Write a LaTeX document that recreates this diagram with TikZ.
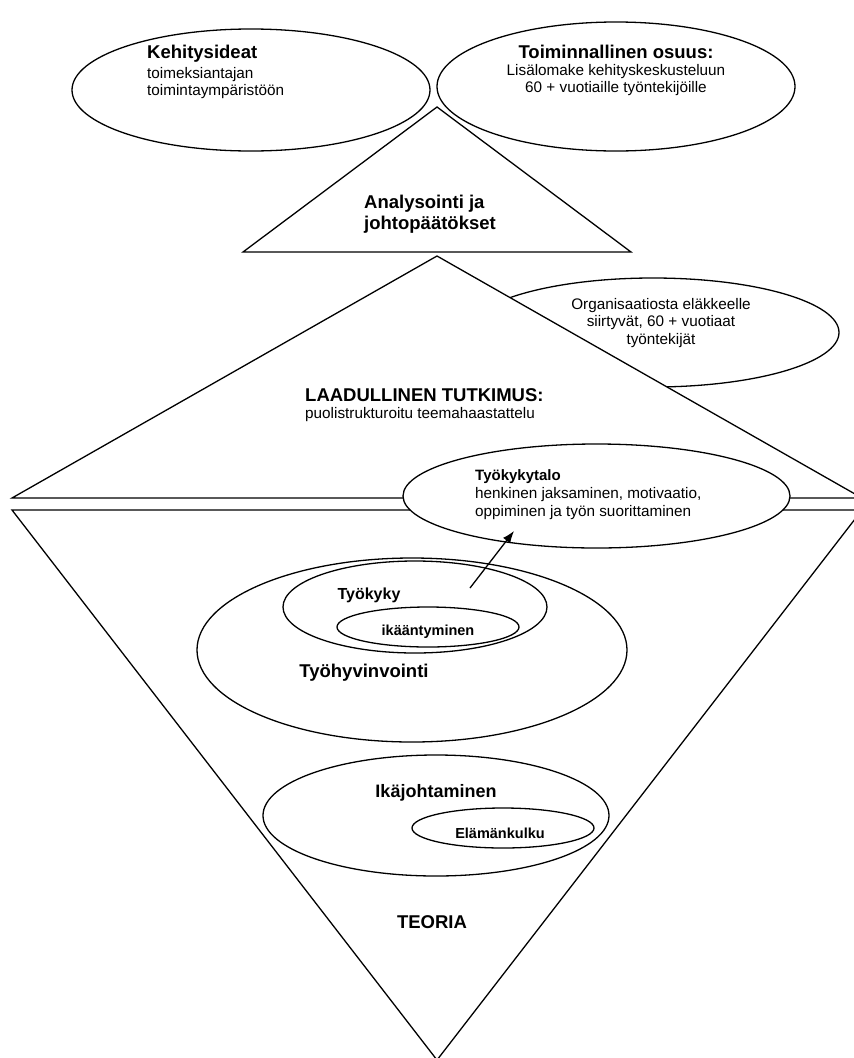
\documentclass[tikz,border=0pt]{standalone}
\usepackage{fontspec}
\setmainfont{Liberation Sans}
\usetikzlibrary{arrows.meta,shapes.geometric,positioning}

\begin{document}
\begin{tikzpicture}
        [x=1pt,y=-1pt,
        oval/.style={ellipse, draw, line width=1.3pt, fill=white, inner sep=0pt},
        tri/.style={draw, line width=1.3pt, fill=white, line join=miter},
        head/.style={font=\fontsize{18.5}{21}\selectfont\bfseries, inner sep=0pt},
        subhead/.style={font=\fontsize{15}{17}\selectfont\bfseries, inner sep=0pt},
        body/.style={font=\fontsize{15.3}{17.5}\selectfont, inner sep=0pt},
        line/.style={draw, line width=1.3pt, -{Latex[length=12pt,width=9pt]}}]
        \useasboundingbox (0,0) rectangle (854,1058);
        % top row
        \node [oval, minimum width=358pt, minimum height=122pt] (ideas) at (251,90) {};
        \node [oval, minimum width=358pt, minimum height=129pt] (action) at (616,86.5) {};
        \path [tri] (437,107) coordinate (anatop) -- (631,252) -- (243,252) -- cycle;
        % research
        \node [oval, minimum width=372pt, minimum height=109pt] (retirees) at (653,332.5) {};
        \path [tri] (437,256) coordinate (restop) -- (862,498) -- (12,498) -- cycle;
        % theory
        \path [tri] (12,510) -- (862,510) -- (437,1060) coordinate (theobot) -- cycle;
        \node [oval, minimum width=387pt, minimum height=104pt] (workhouse) at (596.5,496) {};
        \node [oval, minimum width=430pt, minimum height=184pt] (wellbeing) at (412,650) {};
        \node [oval, minimum width=264pt, minimum height=92pt] (workability) at (415,607) {};
        \node [oval, minimum width=182pt, minimum height=40pt] (ageing) at (428,627) {};
        \node [oval, minimum width=346pt, minimum height=121pt] (agemgmt) at (436,815.5) {};
        \node [oval, minimum width=182pt, minimum height=40pt] (lifecourse) at (503,828) {};
        % texts
        \node [head, anchor=west] (ideashead) at (147,54) {Kehitysideat};
        \node [body, anchor=west, align=left] (ideastext) at (147,83)
            {toimeksiantajan\\toimintaympäristöön};
        \node [head] (actionhead) at (616,52) {Toiminnallinen osuus:};
        \node [body, align=center] (actiontext) at (616,80)
            {Lisälomake kehityskeskusteluun\\60 + vuotiaille työntekijöille};
        \node [head, anchor=west, align=left] (anatext) at (364,214)
            {Analysointi ja\\johtopäätökset};
        \node [body, align=center] (retireestext) at (661,323)
            {Organisaatiosta eläkkeelle\\siirtyvät, 60 + vuotiaat\\työntekijät};
        \node [head, anchor=west] (reshead) at (305,395) {LAADULLINEN TUTKIMUS:};
        \node [body, anchor=west] (restext) at (305,415) {puolistrukturoitu teemahaastattelu};
        \node [subhead, anchor=west] (househead) at (475,477) {Työkykytalo};
        \node [body, anchor=west, align=left] (housetext) at (475,503.5)
            {henkinen jaksaminen, motivaatio,\\oppiminen ja työn suorittaminen};
        \node [subhead, font=\fontsize{16}{18}\selectfont\bfseries] (abilitytext) at (369,595) {Työkyky};
        \node [subhead, font=\fontsize{14.5}{17}\selectfont\bfseries] (ageingtext) at (428,632) {ikääntyminen};
        \node [head] (wellbeingtext) at (364,673) {Työhyvinvointi};
        \node [head, font=\fontsize{18}{21}\selectfont\bfseries] (agemgmttext) at (436,793) {Ikäjohtaminen};
        \node [subhead, font=\fontsize{14.5}{17}\selectfont\bfseries] (lifetext) at (500,833) {Elämänkulku};
        \node [head] (theorytext) at (432,922) {TEORIA};
        % arrow
        \coordinate (arrfrom) at (470,588);
        \coordinate (arrto) at (514,531);
        \path [line] (arrfrom) -- (arrto);
\end{tikzpicture}
\end{document}
